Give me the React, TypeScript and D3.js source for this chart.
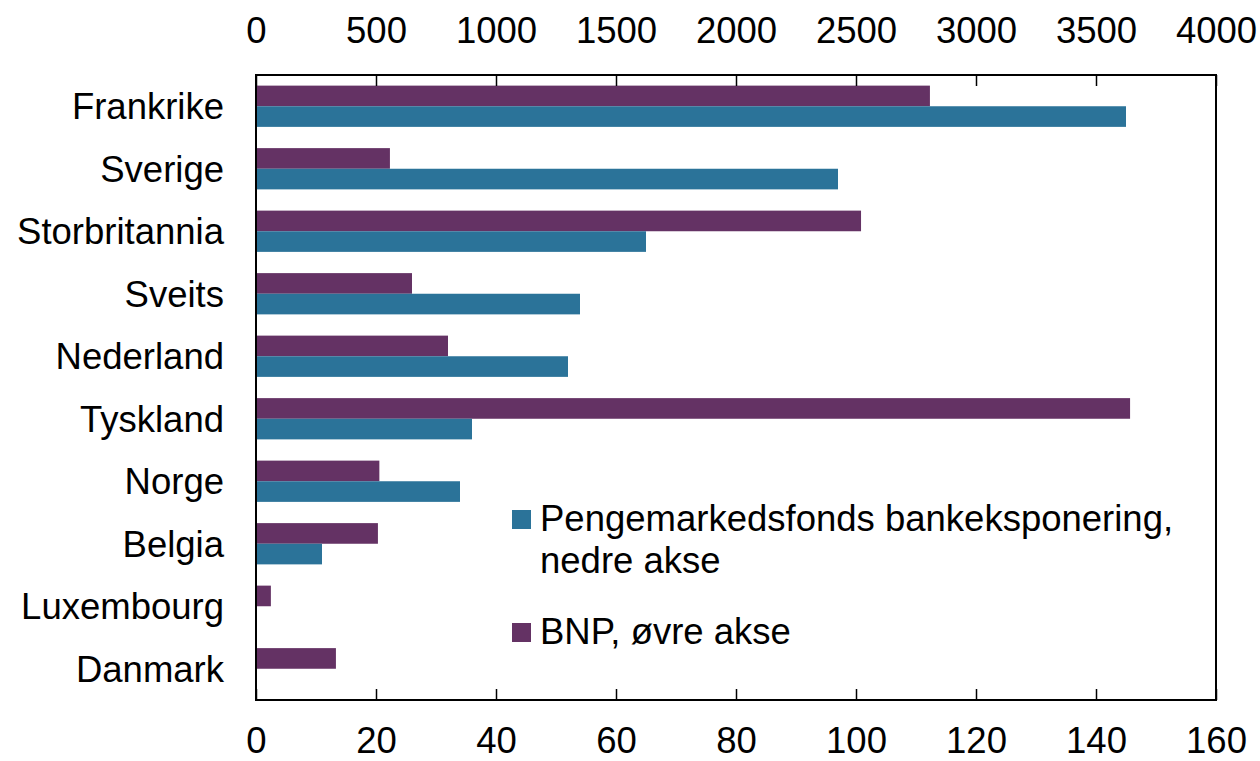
import { useEffect, useRef } from 'react'
import * as d3 from 'd3'

const categories = [
  'Frankrike',
  'Sverige',
  'Storbritannia',
  'Sveits',
  'Nederland',
  'Tyskland',
  'Norge',
  'Belgia',
  'Luxembourg',
  'Danmark',
]

// money market fund bank exposure, lower axis
const mmfValues = [145, 97, 65, 54, 52, 36, 34, 11, 0, 0]
// GDP, upper axis
const gdpValues = [2808, 558, 2521, 650, 800, 3642, 514, 508, 62, 333]

const bottomTicks = [0, 20, 40, 60, 80, 100, 120, 140, 160]
const topTicks = [0, 500, 1000, 1500, 2000, 2500, 3000, 3500, 4000]

const legendItems = [
  { key: 'mmf', lines: ['Pengemarkedsfonds bankeksponering,', 'nedre akse'] },
  { key: 'gdp', lines: ['BNP, øvre akse'] },
]

const colors: Record<string, string> = { mmf: '#2b7399', gdp: '#643264' }

const FONT = '"Liberation Sans", Arial, Helvetica, sans-serif'
const FS = 36.5

const Chart = () => {
  const svgRef = useRef<SVGSVGElement | null>(null)
  const width = 1260
  const height = 761

  useEffect(() => {
    const margin = { top: 75, right: 44, bottom: 61, left: 256 }
    const innerWidth = width - margin.left - margin.right
    const innerHeight = height - margin.top - margin.bottom

    const svg = d3.select(svgRef.current)
    svg.selectAll('*').remove()
    svg.attr('viewBox', `0 0 ${width} ${height}`)

    const g = svg
      .append('g')
      .attr('transform', `translate(${margin.left},${margin.top})`)

    // ================= SCALES =================
    const xBottom = d3.scaleLinear().domain([0, 160]).range([0, innerWidth])
    const xTop = d3.scaleLinear().domain([0, 4000]).range([0, innerWidth])

    const y = d3
      .scaleBand<string>()
      .domain(categories)
      .range([0, innerHeight])
      .paddingInner(0.34)
      .paddingOuter(0.17)

    const ySub = d3
      .scaleBand<string>()
      .domain(['gdp', 'mmf'])
      .range([0, y.bandwidth()])

    // ================= BARS =================
    const rows = categories.map((c, i) => ({
      c,
      mmf: mmfValues[i],
      gdp: gdpValues[i],
    }))

    g.selectAll('.bar-gdp')
      .data(rows)
      .join('rect')
      .attr('class', 'bar-gdp')
      .attr('x', 0)
      .attr('y', (d) => (y(d.c) as number) + (ySub('gdp') as number))
      .attr('width', (d) => xTop(d.gdp))
      .attr('height', ySub.bandwidth())
      .attr('fill', colors.gdp)

    g.selectAll('.bar-mmf')
      .data(rows)
      .join('rect')
      .attr('class', 'bar-mmf')
      .attr('x', 0)
      .attr('y', (d) => (y(d.c) as number) + (ySub('mmf') as number))
      .attr('width', (d) => xBottom(d.mmf))
      .attr('height', ySub.bandwidth())
      .attr('fill', colors.mmf)

    // ================= AXES =================
    const top = g
      .append('g')
      .call(
        d3
          .axisTop(xTop)
          .tickValues(topTicks)
          .tickFormat(d3.format('d'))
          .tickSizeInner(-11)
          .tickSizeOuter(0)
          .tickPadding(32)
      )
    const bottom = g
      .append('g')
      .attr('transform', `translate(0,${innerHeight})`)
      .call(
        d3
          .axisBottom(xBottom)
          .tickValues(bottomTicks)
          .tickFormat(d3.format('d'))
          .tickSizeInner(-11)
          .tickSizeOuter(0)
          .tickPadding(27)
      )

    for (const ax of [top, bottom]) {
      ax.select('.domain').remove()
      ax.selectAll('line').attr('stroke', '#000').attr('stroke-width', 1.5)
      ax.selectAll('text')
        .attr('font-family', FONT)
        .attr('font-size', FS)
        .attr('fill', '#000')
    }

    // category labels
    g.selectAll('.cat')
      .data(categories)
      .join('text')
      .attr('class', 'cat')
      .attr('x', -32)
      .attr('y', (d) => (y(d) as number) + y.bandwidth() / 2)
      .attr('dy', '0.35em')
      .attr('text-anchor', 'end')
      .attr('font-family', FONT)
      .attr('font-size', FS)
      .attr('fill', '#000')
      .text((d) => d)

    // frame
    g.append('rect')
      .attr('width', innerWidth)
      .attr('height', innerHeight)
      .attr('fill', 'none')
      .attr('stroke', '#000')
      .attr('stroke-width', 2)

    // ================= LEGEND =================
    const legend = svg.append('g').attr('transform', 'translate(512,510)')
    const rowY = [0, 113]
    legendItems.forEach((item, i) => {
      const row = legend.append('g').attr('transform', `translate(0,${rowY[i]})`)
      row
        .append('rect')
        .attr('width', 19)
        .attr('height', 19)
        .attr('fill', colors[item.key])
      row
        .append('text')
        .attr('x', 28)
        .attr('y', 21)
        .attr('font-family', FONT)
        .attr('font-size', FS)
        .attr('fill', '#000')
        .selectAll('tspan')
        .data(item.lines)
        .join('tspan')
        .attr('x', 28)
        .attr('dy', (_d, j) => (j === 0 ? 0 : 42))
        .text((d) => d)
    })
  }, [])

  return (
    <svg
      ref={svgRef}
      width={width}
      height={height}
      style={{ position: 'absolute', left: 0, top: 0, background: '#fff' }}
    />
  )
}

export default function App() {
  return <Chart />
}
